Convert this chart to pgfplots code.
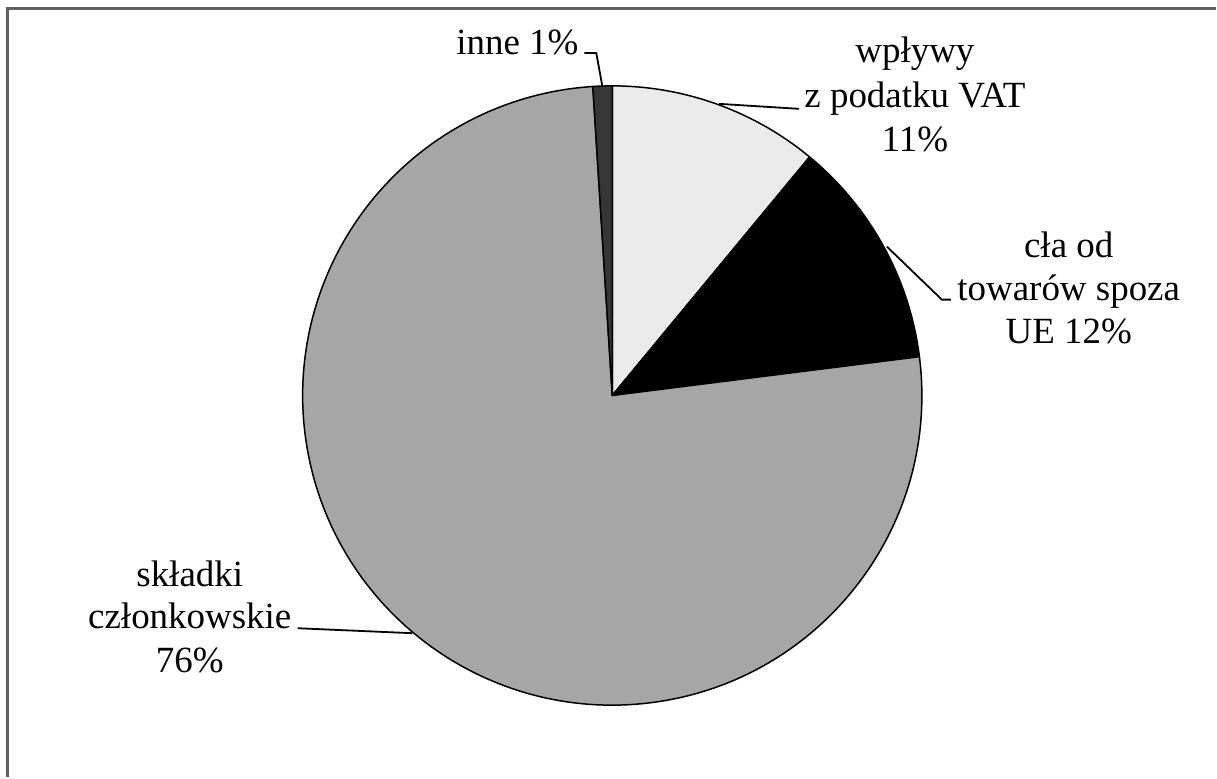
\documentclass[border=0pt]{standalone}
\usepackage{fontspec}
\setmainfont{Liberation Serif}
\usepackage{pgfplots}
\usepackage{pgfplotstable}
\pgfplotsset{compat=1.18}
\definecolor{vatgray}{HTML}{EAEAEA}
\definecolor{midgray}{HTML}{A6A6A6}
\definecolor{darkgray}{HTML}{363636}
\definecolor{framegray}{HTML}{606060}
\tikzset{lbl/.style={anchor=base, inner sep=0pt, font=\fontsize{18.5}{22}\selectfont}}

% share of each source, clockwise from 12 o'clock
\pgfplotstableread{
name value fillc
vat 11 vatgray
cla 12 black
skladki 76 midgray
inne 1 darkgray
}\piedata

\begin{document}
\begin{tikzpicture}
\begin{axis}[
  x=0.5pt, y=0.5pt,
  xmin=0, xmax=1217, ymin=0, ymax=778,
  hide axis, clip=false,
]
\fill[white] (axis cs:0,0) rectangle (axis cs:1217,778);
% frame (only top and left visible)
\draw[framegray, line width=1.5pt] (axis cs:8,0) -- (axis cs:8,769) -- (axis cs:1217,769);

% wedges
\pgfplotstablegetrowsof{\piedata}
\pgfmathtruncatemacro{\nrows}{\pgfplotsretval-1}
\xdef\curangle{90}
\foreach \i in {0,...,\nrows} {
  \pgfplotstablegetelem{\i}{value}\of\piedata
  \let\v\pgfplotsretval
  \pgfplotstablegetelem{\i}{fillc}\of\piedata
  \let\c\pgfplotsretval
  \pgfmathsetmacro{\endangle}{\curangle-3.6*\v}
  \edef\tmp{\noexpand\filldraw[fill=\c, draw=black, line width=0.75pt, line join=round]
    (axis cs:613,382) -- ++(\curangle:155pt)
    arc[start angle=\curangle, end angle=\endangle, radius=155pt] -- cycle;}
  \tmp
  \xdef\curangle{\endangle}
}

% leader lines
\draw[line width=0.9pt] (axis cs:585,725) -- (axis cs:597,725) -- (axis cs:603,692);
\draw[line width=0.9pt] (axis cs:720,674) -- (axis cs:800,669);
\draw[line width=0.9pt] (axis cs:888,531) -- (axis cs:943,478) -- (axis cs:952,478);
\draw[line width=0.9pt] (axis cs:298,149) -- (axis cs:413,144);

% labels
\node[lbl] at (axis cs:518,723) {inne 1\%};
\node[lbl] at (axis cs:916,715) {wpływy};
\node[lbl] at (axis cs:916,670) {z podatku VAT};
\node[lbl] at (axis cs:916,626) {11\%};
\node[lbl] at (axis cs:1070,520) {cła od};
\node[lbl] at (axis cs:1070,477) {towarów spoza};
\node[lbl] at (axis cs:1070,434) {UE 12\%};
\node[lbl] at (axis cs:190,191) {składki};
\node[lbl] at (axis cs:190,149) {członkowskie};
\node[lbl] at (axis cs:190,105) {76\%};
\end{axis}
\end{tikzpicture}
\end{document}
